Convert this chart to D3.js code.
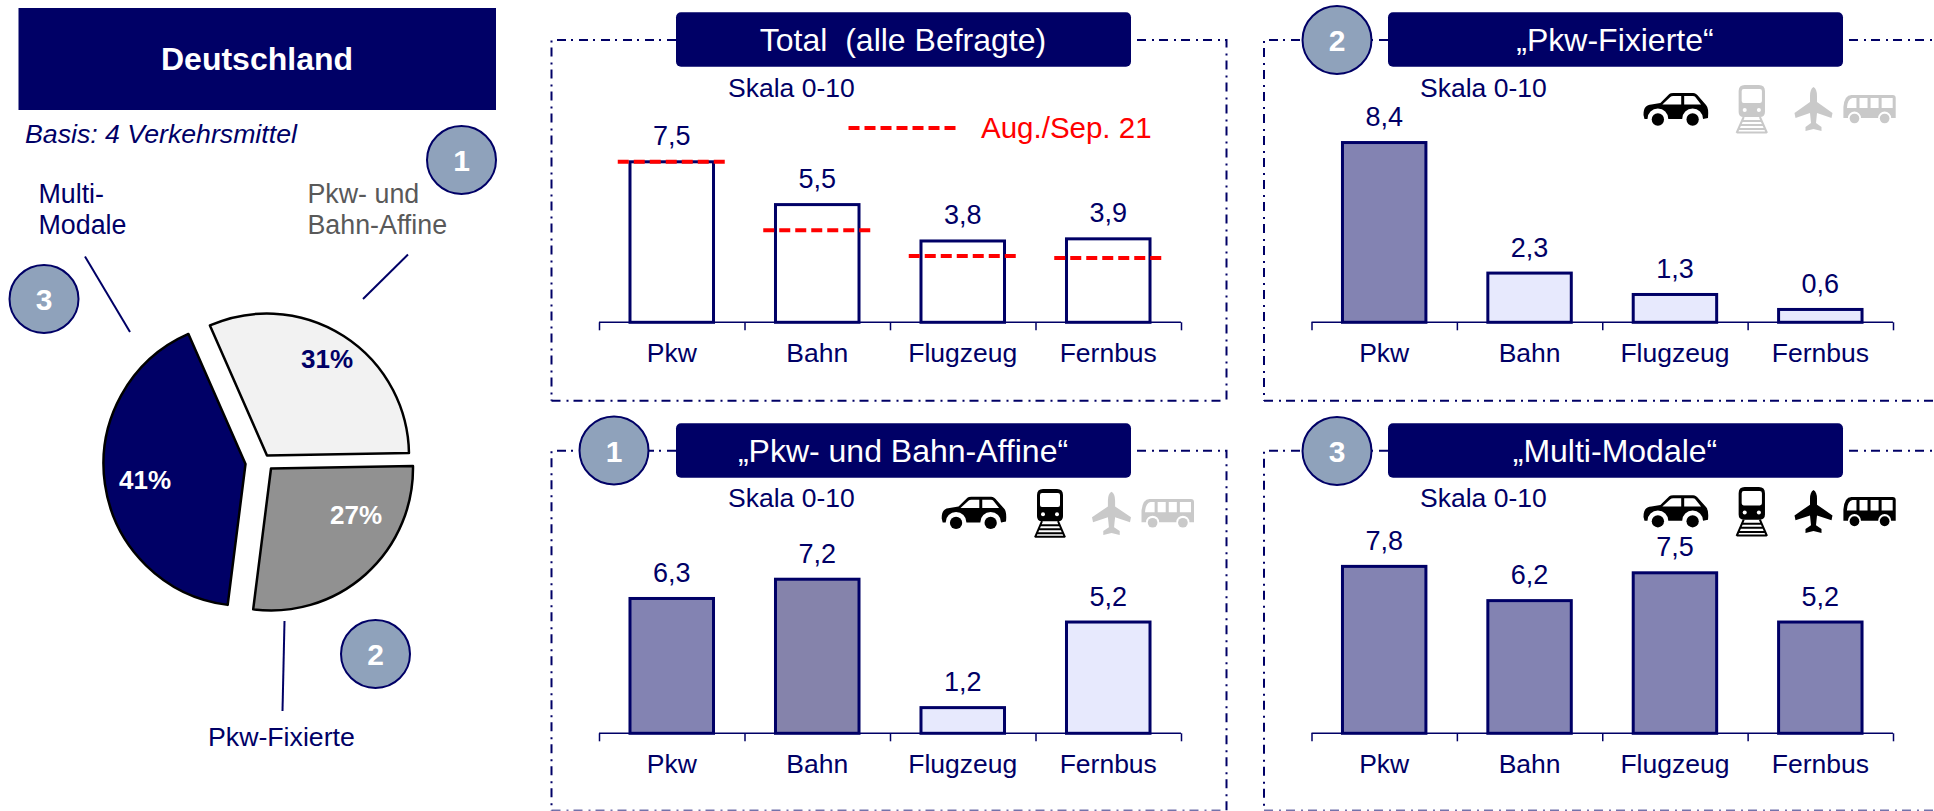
<!DOCTYPE html>
<html lang="de"><head><meta charset="utf-8"><title>Deutschland</title>
<script src="https://cdn.jsdelivr.net/npm/d3@7"></script>
<style>html,body{margin:0;padding:0;background:#fff;overflow:hidden}svg{display:block}text{font-family:"Liberation Sans",Arial,sans-serif;white-space:pre}</style>
</head><body><div id="chart"></div>
<script>
// ---- data ----
const categories = ["Pkw","Bahn","Flugzeug","Fernbus"];
const totalValues = [7.5,5.5,3.8,3.9];
const previousValues = [7.5,4.3,3.1,3.0];
const fixedValues = [8.4,2.3,1.3,0.6];
const affineValues = [6.3,7.2,1.2,5.2];
const multiValues = [7.8,6.2,7.5,5.2];
const pieNames = ["Pkw- und Bahn-Affine","Pkw-Fixierte","Multi-Modale"];
const pieValues = [31,27,41];
const axisMax = 10;
const scaleNote = "Skala 0-10";
const legendNote = "Aug./Sep. 21";

// ---- style / layout ----
const W=1934,H=811,NAVY="#000066",DARK="#8383b2",LIGHT="#e7e9fd",BADGE="#8fa2bb",OFF="#c9c9c9",RED="#ff0000";
const svg=d3.select("#chart").append("svg").attr("width",W).attr("height",H).attr("viewBox",[0,0,W,H]);
const label=(g,x,y,t,size,fill,o={})=>g.append("text").attr("x",x).attr("y",y).attr("font-size",size).attr("fill",fill)
  .attr("text-anchor",o.anchor||"start").attr("font-weight",o.weight||"normal").attr("font-style",o.style||"normal").text(t);
const badge=(g,cx,cy,n)=>{g.append("ellipse").attr("cx",cx).attr("cy",cy).attr("rx",34.5).attr("ry",34).attr("fill",BADGE).attr("stroke",NAVY).attr("stroke-width",2);
  label(g,cx,cy+11,n,30,"#fff",{anchor:"middle",weight:"bold"});};

// icons, each drawn in its own local box and fitted to a target box
const icons={
 car:{w:65,h:33,draw(g,c){
  g.append("path").attr("fill",c).attr("d","M0 22C0 14 3 12 8 11.5L17 10 26 1Q27 0 30 0L50 0Q53 0 56 4L63 12Q66 15 65 25L60 26A10 10 0 0 0 39 26L25 26A10 10 0 0 0 4 26L1 26Z");
  g.append("path").attr("fill","#fff").attr("d","M19 11.5L27 4Q28 3 30 3L38 3 38 11.5ZM41 3L50 3Q52 3 53 5L58 11.5 41 11.5Z");
  [14.5,49.5].forEach(x=>g.append("circle").attr("cx",x).attr("cy",26.5).attr("r",6.2).attr("fill",c));}},
 train:{w:32,h:48,draw(g,c){
  g.append("path").attr("fill",c).attr("fill-rule","evenodd").attr("d","M9 0L23 0Q29 0 29 6L29 27Q29 32 24 32L8 32Q3 32 3 27L3 6Q3 0 9 0ZM8 4Q6 4 6 6L6 16Q6 18 8 18L24 18Q26 18 26 16L26 6Q26 4 24 4Z");
  g.append("circle").attr("cx",9).attr("cy",25).attr("r",2).attr("fill","#fff");
  g.append("circle").attr("cx",23).attr("cy",25).attr("r",2).attr("fill","#fff");
  g.append("path").attr("stroke",c).attr("stroke-width",2).attr("fill","none").attr("d","M8 32L1 48M24 32L31 48M6 36L26 36M4.5 40L27.5 40M3 44L29 44M1 47.5L31 47.5");}},
 plane:{w:38,h:44,draw(g,c){
  g.append("path").attr("fill",c).attr("d","M19 0Q22.5 2 22.5 9L22.5 15L38 26L37 31L22.5 26L21.5 36L27 40L27 44L19 42L11 44L11 40L16.5 36L15.5 26L1 31L0 26L15.5 15L15.5 9Q15.5 2 19 0Z");}},
 bus:{w:52,h:29,draw(g,c){
  g.append("path").attr("fill",c).attr("fill-rule","evenodd").attr("d","M8 0L49 0Q52 0 52 3L52 23L47.5 23A6.5 6.5 0 0 0 34.5 23L17.5 23A6.5 6.5 0 0 0 4.5 23L0 23L0 12Q1 0 8 0ZM9 3Q4 4 3.5 13L13 13L13 3ZM16 3L16 13 24 13 24 3ZM27 3L27 13 35 13 35 3ZM38 3L38 13 49 13 49 3Z");
  [11,41].forEach(x=>g.append("circle").attr("cx",x).attr("cy",23.5).attr("r",4.8).attr("fill",c));}}
};
const icon=(g,name,x0,x1,y0,y1,c)=>{const k=icons[name];const n=g.append("g").attr("transform",`translate(${x0},${y0}) scale(${(x1-x0)/k.w},${(y1-y0)/k.h})`);k.draw(n,c);};

// ---- left: pie ----
const left=svg.append("g");
left.append("rect").attr("x",18.5).attr("y",8).attr("width",477.5).attr("height",102).attr("fill",NAVY);
label(left,257,70,"Deutschland",32,"#fff",{anchor:"middle",weight:"bold"});
label(left,25,143,"Basis: 4 Verkehrsmittel",26.7,NAVY,{style:"italic"});
const toRad=Math.PI/180,pieStart=-23.7*toRad;
const pieArcs=d3.pie().sort(null).startAngle(pieStart).endAngle(pieStart+2*Math.PI)(pieValues);
const arc=d3.arc().innerRadius(0).outerRadius(142);
const pieStyle=[
 {fill:"#f2f2f2",text:NAVY,tip:[267,455.5],lab:[327,368]},
 {fill:"#919191",text:"#fff",tip:[271,468.5],lab:[356,524]},
 {fill:NAVY,text:"#fff",tip:[245.5,464],lab:[145,489]}];
pieArcs.forEach((a,i)=>{const s=pieStyle[i];
 left.append("path").attr("d",arc(a)).attr("transform",`translate(${s.tip})`).attr("fill",s.fill).attr("stroke","#000").attr("stroke-width",2.5).attr("stroke-linejoin","round");
 label(left,s.lab[0],s.lab[1],pieValues[i]+"%",26,s.text,{anchor:"middle",weight:"bold"});});
[[85,256.6,130,332],[408,254.5,363,299],[284.5,621,282.5,711]].forEach(l=>left.append("line").attr("x1",l[0]).attr("y1",l[1]).attr("x2",l[2]).attr("y2",l[3]).attr("stroke",NAVY).attr("stroke-width",2));
label(left,38.5,203,"Multi-",26.8,NAVY);label(left,38.5,234,"Modale",26.8,NAVY);
label(left,307.5,203,"Pkw- und",26.8,"#595959");label(left,307.5,234,"Bahn-Affine",26.8,"#595959");
label(left,208,746,"Pkw-Fixierte",26.7,NAVY);
badge(left,461.5,160,"1");badge(left,375.5,654,"2");badge(left,44,299,"3");

// ---- bar panels ----
const panels=[
 {title:"Total  (alle Befragte)",values:totalValues,fills:["#fff","#fff","#fff","#fff"],frame:[551.5,1226.5,40,400.7],box:[676,1131,12.3,66.7],axis:[599,1181,322.3],note:[728,96.7],prev:previousValues},
 {title:"„Pkw-Fixierte“",values:fixedValues,fills:[DARK,LIGHT,LIGHT,LIGHT],frame:[1264,1990,40,400.7],box:[1388,1843,12.3,66.7],axis:[1311.5,1893,322.3],note:[1420,96.7],badge:[1337,40,"2"],
  icons:[[1643.5,1708,93,126,1],[1735.6,1768,85,133,0],[1794.5,1832.5,87,131,0],[1843.4,1895.7,95,124,0]]},
 {title:"„Pkw- und Bahn-Affine“",values:affineValues,fills:[DARK,"#8583ab",LIGHT,LIGHT],frame:[551.5,1226.5,450.7,810.5],box:[676,1131,423.3,477.7],axis:[599,1181,733.3],note:[728,506.7],badge:[614,450.5,"1"],
  icons:[[941.7,1006,496.7,529.3,1],[1034,1066,489,537.3,1],[1092,1131,491.7,535,0],[1141.5,1194,499,528.3,0]]},
 {title:"„Multi-Modale“",values:multiValues,fills:[DARK,DARK,DARK,DARK],frame:[1264,1990,450.7,810.5],box:[1388,1843,423.3,477.7],axis:[1311.5,1893,733.3],note:[1420,506.7],badge:[1337,451,"3"],
  icons:[[1643.5,1708,495.3,527.7,1],[1735.6,1768,487,536,1],[1794.5,1832.5,490,533,1],[1843.4,1895.7,497,527,1]]}
];
const iconNames=["car","train","plane","bus"];
panels.forEach(p=>{
 const g=svg.append("g");
 const [fx0,fx1,fy0,fy1]=p.frame,[bx0,bx1,by0,by1]=p.box,[ax0,ax1,ay]=p.axis;
 const framePart=(d,op)=>g.append("path").attr("d",d).attr("fill","none").attr("stroke",NAVY).attr("stroke-width",2).attr("stroke-dasharray","9 6 2 5").attr("stroke-opacity",op);
 framePart(`M${bx1+6} ${fy0}L${fx1} ${fy0}L${fx1} ${fy1}`,1);
 framePart(`M${bx0} ${fy0}L${fx0} ${fy0}L${fx0} ${fy1}`,1);
 framePart(`M${fx0} ${fy1}L${fx1} ${fy1}`,fy1>800?0.55:1);
 g.append("rect").attr("x",bx0).attr("y",by0).attr("width",bx1-bx0).attr("height",by1-by0).attr("rx",5).attr("fill",NAVY);
 label(g,(bx0+bx1)/2-0.5,(by0+by1)/2+11.5,p.title,32,"#fff",{anchor:"middle"});
 if(p.badge) badge(g,p.badge[0],p.badge[1],p.badge[2]);
 label(g,p.note[0],p.note[1],scaleNote,26.5,NAVY);
 const x=d3.scaleBand().domain(categories).range([ax0,ax1]).paddingInner(0.426).paddingOuter(0.213);
 const y=d3.scaleLinear().domain([0,axisMax]).range([ay,ay-214]);
 const bars=g.append("g");
 bars.selectAll("rect").data(p.values).join("rect").attr("x",(d,i)=>x(categories[i])).attr("y",d=>y(d))
  .attr("width",x.bandwidth()).attr("height",d=>ay-y(d)).attr("fill",(d,i)=>p.fills[i]).attr("stroke",NAVY).attr("stroke-width",3);
 // separators and baseline
 const sep=d3.scaleLinear().domain([0,categories.length]).range([ax0,ax1]);
 const sepAxis=g.append("g").attr("transform",`translate(0,${ay})`).call(d3.axisBottom(sep).tickValues(d3.range(categories.length+1)).tickSize(8).tickFormat(""));
 sepAxis.selectAll("path,line").attr("stroke",NAVY).attr("stroke-width",1.5);
 sepAxis.select(".domain").attr("d",`M${ax0} 0H${ax1}`);
 const catAxis=g.append("g").attr("transform",`translate(0,${ay})`).call(d3.axisBottom(x).tickSize(0).tickPadding(21));
 catAxis.select(".domain").remove();
 catAxis.selectAll("text").attr("font-size",26.5).attr("font-family",'"Liberation Sans",Arial,sans-serif').attr("fill",NAVY);
 g.append("g").selectAll("text").data(p.values).join("text").attr("x",(d,i)=>x(categories[i])+x.bandwidth()/2).attr("y",d=>y(d)-16.5)
  .attr("text-anchor","middle").attr("font-size",27).attr("fill",NAVY).text(d=>d3.format(".1f")(d).replace(".",","));
 if(p.prev){
  const mark=g.append("g");
  mark.selectAll("line").data(p.prev).join("line").attr("x1",(d,i)=>x(categories[i])+x.bandwidth()/2-54).attr("x2",(d,i)=>x(categories[i])+x.bandwidth()/2+54)
   .attr("y1",d=>y(d)).attr("y2",d=>y(d)).attr("stroke",RED).attr("stroke-width",4).attr("stroke-dasharray","11 5");
  g.append("line").attr("x1",848.5).attr("x2",956.5).attr("y1",128).attr("y2",128).attr("stroke",RED).attr("stroke-width",4).attr("stroke-dasharray","11 5");
  label(g,981,137.5,legendNote,29.5,RED);
 }
 if(p.icons) p.icons.forEach((b,i)=>icon(g,iconNames[i],b[0],b[1],b[2],b[3],b[4]?"#000":OFF));
});
</script></body></html>
